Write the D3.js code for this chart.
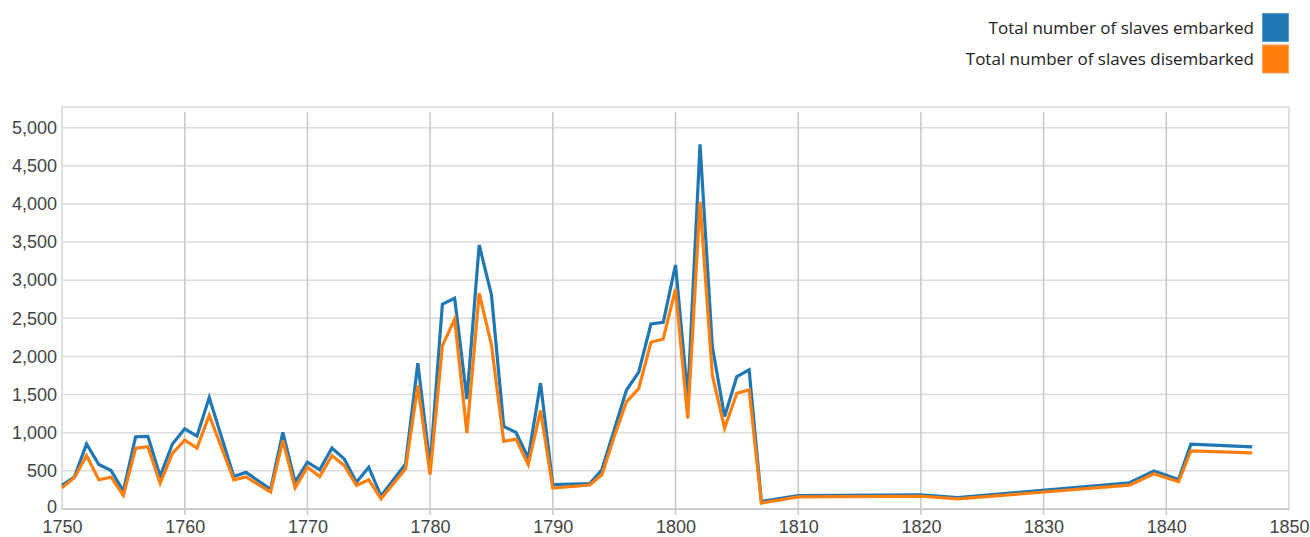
<!DOCTYPE html>
<html>
<head>
<meta charset="utf-8">
<script src="https://cdn.jsdelivr.net/npm/d3@7"></script>
<style>
  body { margin: 0; background: #fff; }
  svg { display: block; }
</style>
</head>
<body>
<div id="chart"></div>
<script>
// values
const years = [1750, 1751, 1752, 1753, 1754, 1755, 1756, 1757, 1758, 1759, 1760, 1761, 1762,
  1764, 1765, 1767, 1768, 1769, 1770, 1771, 1772, 1773, 1774, 1775, 1776, 1778, 1779, 1780,
  1781, 1782, 1783, 1784, 1785, 1786, 1787, 1788, 1789, 1790, 1793, 1794, 1795, 1796, 1797,
  1798, 1799, 1800, 1801, 1802, 1803, 1804, 1805, 1806, 1807, 1810, 1820, 1823, 1837, 1839,
  1841, 1842, 1847];

const embarked = [309, 417, 852, 583, 504, 235, 948, 952, 430, 852, 1052, 957, 1461,
  426, 480, 257, 1004, 352, 613, 513, 800, 657, 352, 548, 170, 591, 1913, 560,
  2686, 2764, 1441, 3463, 2808, 1083, 1004, 668, 1651, 319, 332, 515, 1035, 1557, 1796,
  2426, 2448, 3200, 1470, 4782, 2129, 1213, 1736, 1824, 100, 176, 185, 150, 344, 498,
  388, 850, 815];

const disembarked = [278, 409, 700, 383, 417, 178, 796, 817, 339, 730, 904, 800, 1230,
  383, 420, 222, 896, 278, 548, 426, 700, 570, 309, 383, 135, 526, 1620, 450,
  2140, 2489, 996, 2830, 2153, 886, 917, 581, 1293, 275, 315, 448, 948, 1404, 1578,
  2187, 2230, 2883, 1187, 4027, 1758, 1060, 1518, 1562, 78, 159, 167, 132, 313, 463,
  357, 762, 736];

const xTicks = [1750, 1760, 1770, 1780, 1790, 1800, 1810, 1820, 1830, 1840, 1850];
const yTicks = [0, 500, 1000, 1500, 2000, 2500, 3000, 3500, 4000, 4500, 5000];
const seriesNames = ['Total number of slaves embarked', 'Total number of slaves disembarked'];
const seriesColors = ['#1f77b4', '#ff7f0e'];

const width = 1310;
const height = 537;
const plot = { left: 62, right: 1289, top: 107, bottom: 509 };

const svg = d3.select('#chart')
  .append('svg')
  .attr('width', width)
  .attr('height', height)
  .style('background-color', '#fff');

const x = d3.scaleLinear().domain([1750, 1850]).range([plot.left, plot.right]);
const y = d3.scaleLinear().domain([0, 5000]).range([plot.bottom, 127.7]);

// horizontal grid
svg.append('g')
  .selectAll('line')
  .data(yTicks.filter(d => d > 0))
  .enter()
  .append('line')
  .attr('x1', plot.left)
  .attr('x2', plot.right)
  .attr('y1', d => y(d))
  .attr('y2', d => y(d))
  .style('stroke', '#dcdcdc')
  .style('stroke-width', 1.5);

// vertical grid (runs a few px below the axis like tick marks)
svg.append('g')
  .selectAll('line')
  .data(xTicks.slice(1, -1))
  .enter()
  .append('line')
  .attr('x1', d => x(d))
  .attr('x2', d => x(d))
  .attr('y1', 112)
  .attr('y2', 515)
  .style('stroke', '#c8c8c8')
  .style('stroke-width', 1.5);

// frame
svg.append('rect')
  .attr('x', plot.left)
  .attr('y', plot.top)
  .attr('width', plot.right - plot.left)
  .attr('height', plot.bottom - plot.top)
  .style('fill', 'none')
  .style('stroke', '#e0e0e0')
  .style('stroke-width', 2);

svg.append('line')
  .attr('x1', plot.left).attr('x2', plot.right)
  .attr('y1', plot.bottom).attr('y2', plot.bottom)
  .style('stroke', '#cccccc')
  .style('stroke-width', 2);

// axes (labels only, lines drawn above)
const yAxis = svg.append('g')
  .attr('transform', `translate(${plot.left},0)`)
  .call(d3.axisLeft(y).tickValues(yTicks).tickFormat(d3.format(',')).tickSize(0).tickPadding(5));

const xAxis = svg.append('g')
  .attr('transform', `translate(0,${plot.bottom})`)
  .call(d3.axisBottom(x).tickValues(xTicks).tickFormat(d3.format('d')).tickSize(0).tickPadding(11));

[yAxis, xAxis].forEach(ax => {
  ax.select('.domain').remove();
  ax.selectAll('text')
    .style('font-family', '"Liberation Sans", Arial, sans-serif')
    .style('font-size', '18px')
    .style('fill', '#444');
});

// keep the "0" clear of the first year label
yAxis.selectAll('.tick text').filter(d => d === 0).attr('dy', '0.2em');

// lines
const line = d3.line()
  .x(d => x(d[0]))
  .y(d => y(d[1]));

[embarked, disembarked].forEach((vals, i) => {
  svg.append('path')
    .datum(years.map((yr, j) => [yr, vals[j]]))
    .attr('d', line)
    .style('fill', 'none')
    .style('stroke', seriesColors[i])
    .style('stroke-width', 3.2)
    .style('stroke-linejoin', 'miter');
});

// legend, top right
const legend = svg.append('g')
  .selectAll('g')
  .data(seriesNames)
  .enter()
  .append('g')
  .attr('transform', (d, i) => `translate(0,${i * 31.5})`);

legend.append('rect')
  .attr('x', 1262.5)
  .attr('y', 13.5)
  .attr('width', 26)
  .attr('height', 28)
  .style('fill', (d, i) => seriesColors[i])
  .style('stroke', (d, i) => i === 0 ? '#5a9bd0' : '#ffa65a')
  .style('stroke-width', 1);

legend.append('text')
  .attr('x', 1254)
  .attr('y', 28)
  .attr('dy', '0.35em')
  .style('text-anchor', 'end')
  .style('font-family', '"Segoe UI", "Open Sans", sans-serif')
  .style('font-size', '17px')
  .style('fill', '#222')
  .text(d => d);
</script>
</body>
</html>
